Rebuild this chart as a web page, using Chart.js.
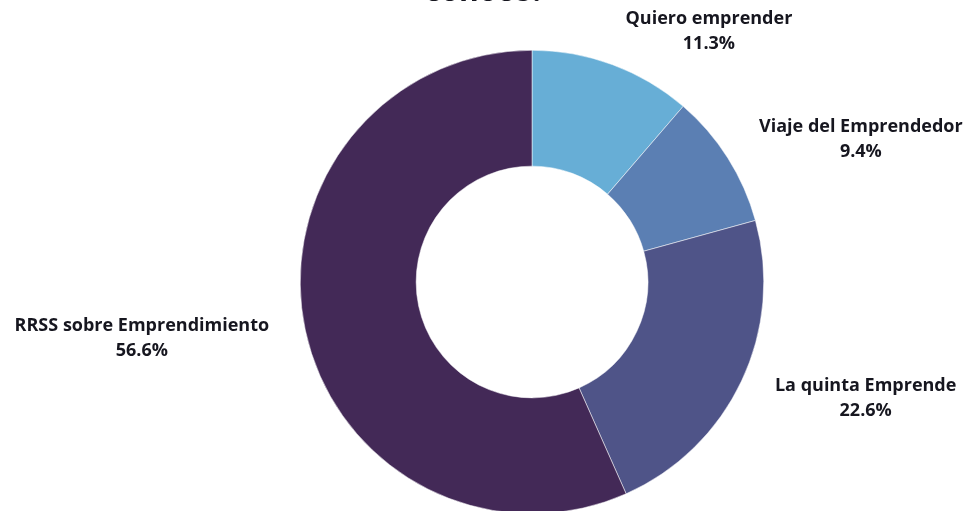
<!DOCTYPE html>
<html>
<head>
<meta charset="utf-8">
<script src="https://cdn.jsdelivr.net/npm/chart.js@4/dist/chart.umd.min.js"></script>
<style>
html,body{margin:0;padding:0;background:#fff;overflow:hidden;}
#wrap{position:relative;width:970px;height:530px;}
</style>
</head>
<body>
<div id="wrap"><canvas id="c"></canvas></div>
<script>
const titleText = "conoce?";
const categories = ["Quiero emprender", "Viaje del Emprendedor", "La quinta Emprende", "RRSS sobre Emprendimiento"];
const values = [11.3, 9.4, 22.6, 56.6];
const colors = ["#67AED6", "#5B7FB3", "#4F5488", "#432957"];

const labelPlugin = {
  id: 'outsideLabels',
  afterDatasetsDraw(chart) {
    const ctx = chart.ctx;
    const meta = chart.getDatasetMeta(0);
    ctx.save();
    ctx.fillStyle = '#16161f';
    ctx.font = 'bold 18px "Open Sans"';
    ctx.textBaseline = 'middle';
    ctx.textAlign = 'center';
    const lineH = 25;
    meta.data.forEach((arc, i) => {
      const p = arc.getProps(['x','y','startAngle','endAngle','outerRadius'], true);
      const mid = (p.startAngle + p.endAngle) / 2;
      const r = p.outerRadius + 37;
      const qx = p.x + Math.cos(mid) * r;
      const qy = p.y + Math.sin(mid) * r + 1;
      const lines = [categories[i], values[i].toFixed(1) + '%'];
      const w = Math.max(...lines.map(l => ctx.measureText(l).width));
      const cx = Math.cos(mid) >= 0 ? qx + w / 2 : qx - w / 2;
      const top = qy - lineH / 2;
      lines.forEach((l, k) => ctx.fillText(l, cx, top + k * lineH));
    });
    ctx.font = 'bold 30px "Open Sans"';
    ctx.textBaseline = 'alphabetic';
    ctx.fillText(titleText, chart.width / 2, 1);
    ctx.restore();
  }
};

new Chart(document.getElementById('c'), {
  type: 'doughnut',
  data: {
    labels: categories,
    datasets: [{
      data: values,
      backgroundColor: colors,
      borderColor: '#ffffff',
      borderWidth: 0.5,
      hoverOffset: 0
    }]
  },
  options: {
    responsive: true,
    maintainAspectRatio: false,
    animation: false,
    cutout: '50%',
    layout: { padding: { top: 50, bottom: 16, left: 300, right: 206 } },
    plugins: {
      legend: { display: false },
      tooltip: { enabled: false }
    }
  },
  plugins: [labelPlugin]
});
</script>
</body>
</html>
